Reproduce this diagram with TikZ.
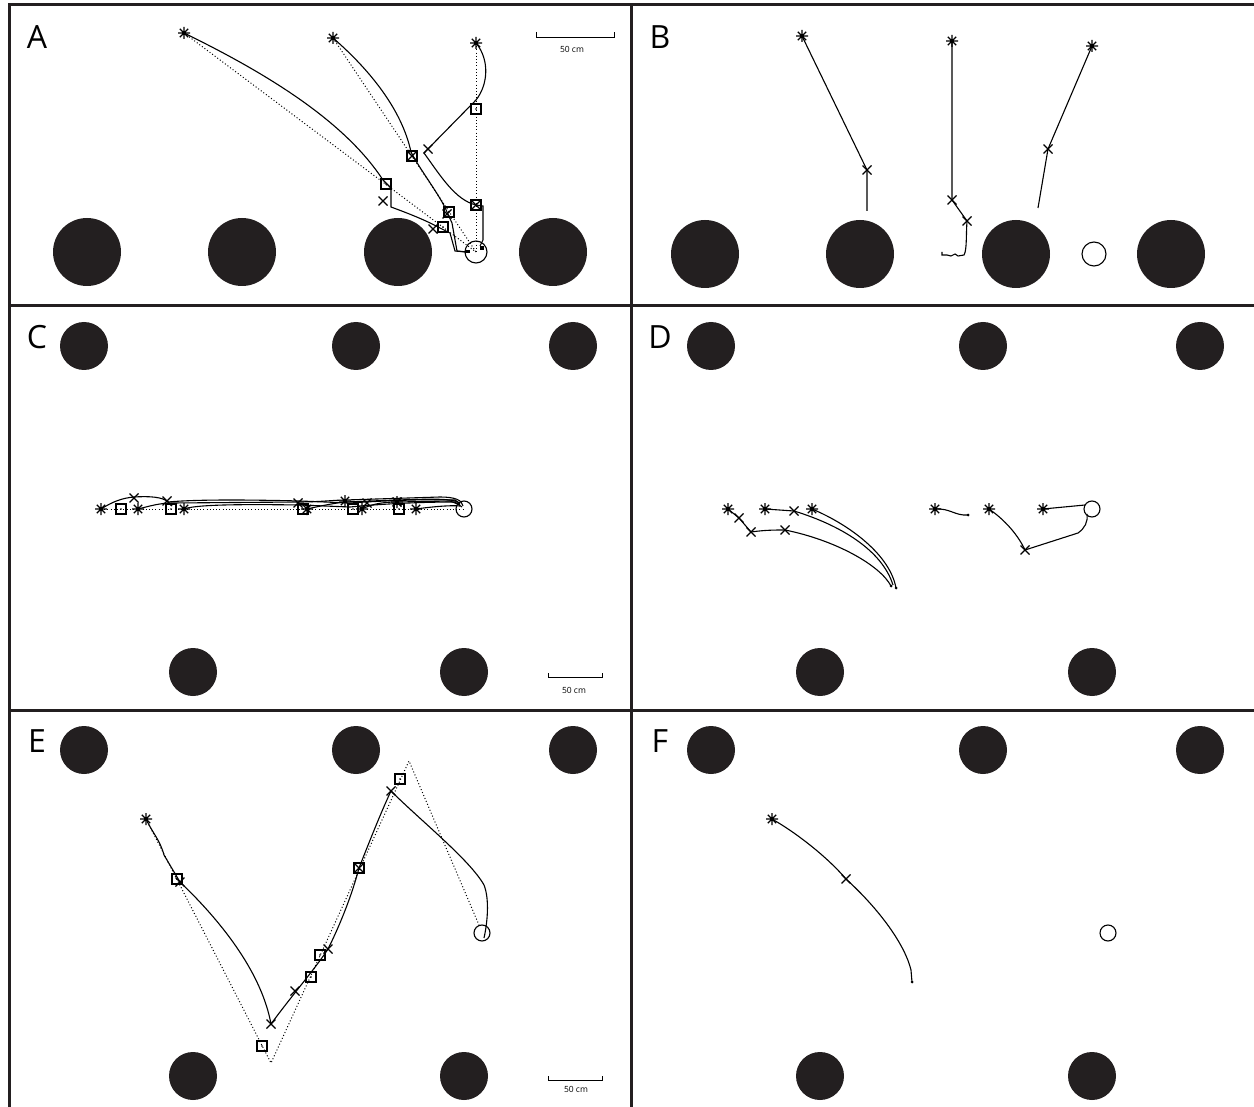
\documentclass[tikz,border=0pt]{standalone}
\usepackage{fontspec}
\setmainfont{Open Sans}
\definecolor{diskblack}{HTML}{231F20}
\newcommand\startmark[1]{%
  \draw[trace] (#1) +(-6,0) -- +(6,0) +(0,-6) -- +(0,6)
    +(-4.2,-4.2) -- +(4.2,4.2) +(-4.2,4.2) -- +(4.2,-4.2);}
\newcommand\turnmark[1]{%
  \draw[trace] (#1) +(-4.5,-4.5) -- +(4.5,4.5) +(-4.5,4.5) -- +(4.5,-4.5);}
\newcommand\cuebox[1]{%
  \draw[trace] (#1) +(-5,-5) rectangle +(5,5);
  \fill (#1) circle (0.8);}
\newcommand\trackend[1]{\fill (#1) circle (1.5);}
\tikzset{
  frameline/.style={line width=3pt, draw=diskblack},
  trace/.style={line width=1.1pt},
  cue/.style={line width=1pt, dash pattern=on 1pt off 2.2pt},
  obstacle/.style={fill=diskblack},
  goalring/.style={line width=1.1pt},
  scaleline/.style={line width=0.8pt},
  panellabel/.style={font=\fontsize{32}{32}\selectfont, inner sep=0pt},
  barlabel/.style={font=\fontsize{8.5}{8.5}\selectfont, inner sep=0pt},
}

\begin{document}
\begin{tikzpicture}[x=1pt, y=-1pt]
\useasboundingbox (0,0) rectangle (1254,1107);
% panel frames
\draw[frameline] (9,1107) -- (9,5) -- (1254,5);
\draw[frameline] (631,5) -- (631,1107);
\draw[frameline] (9,306) -- (1254,306);
\draw[frameline] (9,710) -- (1254,710);
% panel letters
\node[panellabel] (labA) at (37,37) {A};
\node[panellabel] (labB) at (660,37) {B};
\node[panellabel] (labC) at (37,337) {C};
\node[panellabel] (labD) at (660,337) {D};
\node[panellabel] (labE) at (37,741) {E};
\node[panellabel] (labF) at (660,741) {F};

% ---------- panel A
\fill[obstacle] (87,252) circle (34);
\fill[obstacle] (242,252) circle (34);
\fill[obstacle] (398,252) circle (34);
\fill[obstacle] (553,252) circle (34);
\draw[scaleline] (536,32) -- (536,37) -- (614,37) -- (614,32);
\node[barlabel] (barA) at (572,49) {50 cm};
\coordinate (A-goal) at (476,252);
\coordinate (A-s1) at (184,33);
\coordinate (A-s2) at (333,38);
\coordinate (A-s3) at (476,43);
\draw[cue] (A-s1) -- (A-goal);
\draw[cue] (A-s2) -- (A-goal);
\draw[cue] (A-s3) -- (A-goal);
\draw[trace] (A-s1) .. controls (270,75) and (345,122) .. (383,180) -- (391,188)
  -- (391,207) .. controls (410,214) and (425,220) .. (440,228) -- (450,233)
  -- (455,251) -- (466,252);
\draw[trace] (A-s2) .. controls (370,70) and (402,110) .. (411,152)
  .. controls (420,170) and (440,195) .. (447,212) -- (452,223) -- (457,251) -- (467,252);
\draw[trace] (A-s3) .. controls (490,60) and (488,85) .. (476,100) -- (424,153)
  .. controls (440,175) and (455,200) .. (476,205) -- (483,206) -- (483,240) -- (480,246);
\startmark{A-s1}
\startmark{A-s2}
\startmark{A-s3}
\cuebox{386,184}
\cuebox{412,156}
\cuebox{443,227}
\cuebox{449,212}
\cuebox{476,109}
\cuebox{476,205}
\turnmark{383,201}
\turnmark{412,156}
\turnmark{433,229}
\turnmark{447,214}
\turnmark{428,149}
\turnmark{476,205}
\draw[goalring] (A-goal) circle (11);
\fill (465,250) rectangle (470,253);
\fill (480,246) rectangle (484,250);

% ---------- panel B
\fill[obstacle] (705,254) circle (34);
\fill[obstacle] (860,254) circle (34);
\fill[obstacle] (1016,254) circle (34);
\fill[obstacle] (1171,254) circle (34);
\coordinate (B-goal) at (1094,254);
\coordinate (B-s1) at (802,36);
\coordinate (B-s2) at (952,41);
\coordinate (B-s3) at (1092,46);
\draw[trace] (B-s1) -- (867,170) -- (867,211);
\draw[trace] (B-s2) -- (952,200) -- (967,221)
  .. controls (966,235) and (967,250) .. (964,255) -- (958,256) -- (955,254)
  -- (951,256) -- (947,255) -- (942,255) -- (942,252);
\draw[trace] (B-s3) -- (1048,149) -- (1038,208);
\startmark{B-s1}
\startmark{B-s2}
\startmark{B-s3}
\turnmark{867,170}
\turnmark{952,200}
\turnmark{967,221}
\turnmark{1048,149}
\draw[goalring] (B-goal) circle (12);

% ---------- panel C
\fill[obstacle] (84,346) circle (24);
\fill[obstacle] (356,346) circle (24);
\fill[obstacle] (573,346) circle (24);
\fill[obstacle] (193,672) circle (24);
\fill[obstacle] (464,672) circle (24);
\draw[scaleline] (548,673) -- (548,677) -- (602,677) -- (602,673);
\node[barlabel] (barC) at (574,690) {50 cm};
\coordinate (C-goal) at (464,509);
\draw[cue] (101,509) -- (C-goal);
\draw[trace] (101,509) .. controls (112,502) and (122,498) .. (134,497)
  .. controls (150,496) and (163,497) .. (168,502) -- (172,506);
\draw[trace] (138,509) .. controls (150,506) and (160,503) .. (172,503) -- (298,502)
  .. controls (320,502) and (335,500) .. (345,500) -- (440,497)
  .. controls (455,497) and (462,500) .. (463,506);
\draw[trace] (168,502) .. controls (200,499) and (260,500) .. (300,501) -- (350,503)
  .. controls (380,501) and (420,499) .. (455,500) -- (460,504);
\draw[trace] (184,509) .. controls (195,505) and (230,504) .. (300,505) -- (350,507)
  .. controls (380,504) and (420,502) .. (455,502) -- (462,507);
\draw[trace] (307,509) .. controls (320,506) and (335,503) .. (345,502) -- (397,500)
  .. controls (430,499) and (452,498) .. (460,503);
\draw[trace] (362,509) .. controls (370,505) and (380,502) .. (397,502) -- (450,501) -- (460,505);
\draw[trace] (416,509) .. controls (430,507) and (450,505) .. (460,506);
\startmark{101,509}
\startmark{138,509}
\startmark{184,509}
\startmark{307,509}
\startmark{362,509}
\startmark{416,509}
\startmark{345,501}
\startmark{397,502}
\cuebox{121,509}
\cuebox{171,509}
\cuebox{303,509}
\cuebox{353,509}
\cuebox{399,509}
\turnmark{134,498}
\turnmark{167,501}
\turnmark{298,503}
\turnmark{367,503}
\turnmark{397,502}
\draw[goalring] (C-goal) circle (8);

% ---------- panel D
\fill[obstacle] (711,346) circle (24);
\fill[obstacle] (983,346) circle (24);
\fill[obstacle] (1200,346) circle (24);
\fill[obstacle] (820,672) circle (24);
\fill[obstacle] (1092,672) circle (24);
\coordinate (D-goal) at (1092,509);
\draw[trace] (728,509) -- (739,518) -- (751,532)
  .. controls (765,530) and (775,530) .. (785,530)
  .. controls (835,540) and (880,565) .. (891,586);
\draw[trace] (765,509) -- (794,511) .. controls (840,525) and (882,550) .. (893,585);
\draw[trace] (812,509) .. controls (850,525) and (890,555) .. (896,588);
\draw[trace] (935,509) .. controls (950,508) and (955,516) .. (968,515);
\draw[trace] (989,509) .. controls (1005,520) and (1018,535) .. (1025,550) -- (1078,533)
  .. controls (1085,528) and (1088,522) .. (1087,514);
\draw[trace] (1043,509) -- (1085,505);
\trackend{891,586}
\trackend{896,588}
\trackend{968,515}
\startmark{728,509}
\startmark{765,509}
\startmark{812,509}
\startmark{935,509}
\startmark{989,509}
\startmark{1043,509}
\turnmark{739,518}
\turnmark{751,532}
\turnmark{785,530}
\turnmark{794,511}
\turnmark{1025,550}
\draw[goalring] (D-goal) circle (8);

% ---------- panel E
\fill[obstacle] (84,750) circle (24);
\fill[obstacle] (356,750) circle (24);
\fill[obstacle] (573,750) circle (24);
\fill[obstacle] (193,1076) circle (24);
\fill[obstacle] (464,1076) circle (24);
\draw[scaleline] (548,1076) -- (548,1080) -- (602,1080) -- (602,1076);
\node[barlabel] (barE) at (576,1089) {50 cm};
\coordinate (E-goal) at (482,933);
\coordinate (E-s1) at (146,819);
\draw[cue] (E-s1) -- (271,1063) -- (409,761) -- (479,925);
\draw[trace] (E-s1) .. controls (152,832) and (160,840) .. (164,855) -- (180,882)
  .. controls (225,925) and (262,975) .. (271,1024)
  .. controls (290,998) and (318,965) .. (328,949)
  .. controls (340,925) and (352,895) .. (359,868)
  .. controls (370,840) and (382,810) .. (391,791)
  .. controls (420,820) and (470,860) .. (484,885)
  .. controls (490,900) and (487,925) .. (484,938);
\startmark{E-s1}
\cuebox{177,879}
\cuebox{262,1046}
\cuebox{311,977}
\cuebox{320,955}
\cuebox{359,868}
\cuebox{400,779}
\turnmark{180,882}
\turnmark{271,1024}
\turnmark{295,991}
\turnmark{328,949}
\turnmark{359,868}
\turnmark{391,791}
\draw[goalring] (E-goal) circle (8);

% ---------- panel F
\fill[obstacle] (711,750) circle (24);
\fill[obstacle] (983,750) circle (24);
\fill[obstacle] (1200,750) circle (24);
\fill[obstacle] (820,1076) circle (24);
\fill[obstacle] (1092,1076) circle (24);
\coordinate (F-goal) at (1108,933);
\coordinate (F-s1) at (772,819);
\draw[trace] (F-s1) .. controls (800,835) and (830,860) .. (846,879)
  .. controls (880,910) and (905,945) .. (911,970) -- (912,982);
\trackend{912,982}
\startmark{F-s1}
\turnmark{846,879}
\draw[goalring] (F-goal) circle (8);
\end{tikzpicture}
\end{document}
